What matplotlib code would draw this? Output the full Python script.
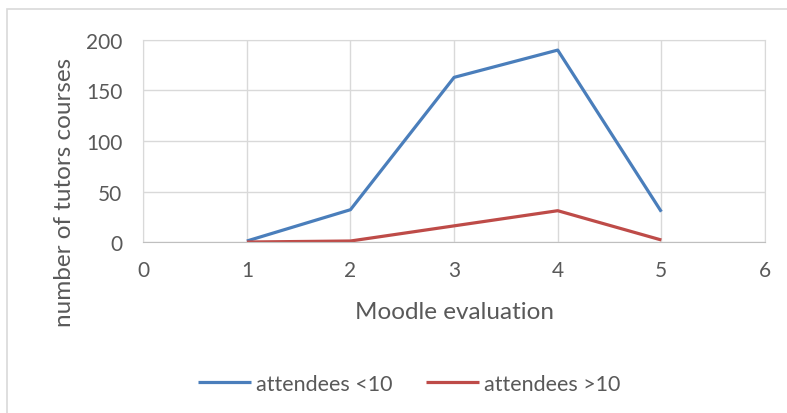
import matplotlib
matplotlib.use("Agg")
import matplotlib.pyplot as plt
from matplotlib.patches import Rectangle

# Moodle evaluation scores and course counts per group
scores = [1, 2, 3, 4, 5]
small_groups = [1, 32, 163, 190, 30]   # attendees <10
large_groups = [0, 1, 16, 31, 2]       # attendees >10

x_ticks = [0, 1, 2, 3, 4, 5, 6]
y_ticks = [0, 50, 100, 150, 200]

plt.rcParams['font.family'] = ['Lato', 'DejaVu Sans']
text_col = '#595959'

fig = plt.figure(figsize=(7.87, 4.14), dpi=100)
ax = fig.add_axes([0.182, 0.413, 0.790, 0.488])

# chart border like the spreadsheet frame
fig.patches.append(Rectangle((0.009, -0.05), 1.2, 1.026, transform=fig.transFigure,
                             fill=False, edgecolor='#d9d9d9', linewidth=1.2))

ax.plot(scores, small_groups, color='#4a7ebb', linewidth=2.3, label='attendees <10',
        solid_capstyle='butt')
ax.plot(scores, large_groups, color='#be4b48', linewidth=2.3, label='attendees >10',
        solid_capstyle='butt')

ax.set_xlim(0, 6)
ax.set_ylim(0, 200)
ax.set_xticks(x_ticks)
ax.set_yticks(y_ticks)
ax.grid(True, color='#d9d9d9', linewidth=1)
ax.set_axisbelow(True)
for side in ['top', 'right', 'left']:
    ax.spines[side].set_color('#d9d9d9')
ax.spines['bottom'].set_color('#bfbfbf')
ax.tick_params(length=0, labelsize=15, colors=text_col)
ax.tick_params(axis='y', pad=15)
ax.tick_params(axis='x', pad=13)

ax.set_xlabel('Moodle evaluation', fontsize=17.5, color=text_col)
ax.xaxis.set_label_coords(0.5, -0.29)
ax.set_ylabel('number of tutors courses', fontsize=17.5, color=text_col)
ax.yaxis.set_label_coords(-0.11, 0.25)

fig.legend(loc='center', bbox_to_anchor=(0.52, 0.07), ncol=2, frameon=False,
           fontsize=15.5, labelcolor=text_col, handlelength=2.45, handletextpad=0.23,
           columnspacing=1.55)

fig.savefig('out.png', dpi=100)
